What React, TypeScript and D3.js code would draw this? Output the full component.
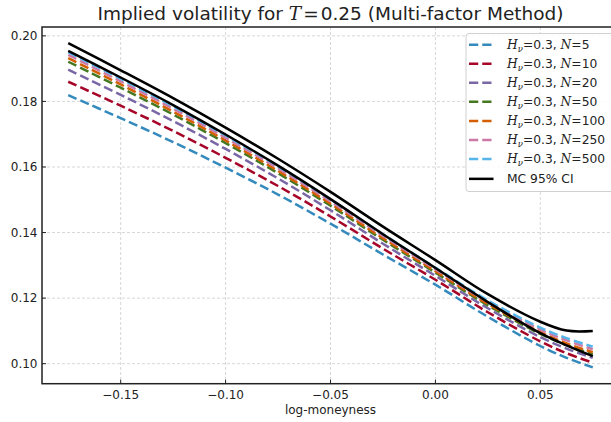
import React from "react";
import * as d3 from "d3";

const W = 611, H = 422;

const moneyness = [-0.175, -0.15, -0.125, -0.1, -0.075, -0.05, -0.025, 0, 0.025, 0.05, 0.0625, 0.075];

const ivN5 = [0.1819, 0.1749, 0.1676, 0.1598, 0.1516, 0.1427, 0.1333, 0.1241, 0.1143, 0.1054, 0.1018, 0.0989];
const ivN10 = [0.1860, 0.1787, 0.1710, 0.1628, 0.1542, 0.1449, 0.1351, 0.1256, 0.1157, 0.1068, 0.1032, 0.1003];
const ivN20 = [0.1897, 0.1820, 0.1740, 0.1655, 0.1565, 0.1468, 0.1366, 0.1268, 0.1169, 0.1081, 0.1046, 0.1018];
const ivN50 = [0.1921, 0.1842, 0.1760, 0.1673, 0.1581, 0.1482, 0.1378, 0.1278, 0.1178, 0.1091, 0.1057, 0.1029];
const ivN100 = [0.1932, 0.1852, 0.1769, 0.1681, 0.1588, 0.1488, 0.1383, 0.1282, 0.1182, 0.1096, 0.1062, 0.1035];
const ivN250 = [0.1942, 0.1861, 0.1778, 0.1689, 0.1596, 0.1495, 0.1390, 0.1288, 0.1188, 0.1104, 0.1071, 0.1044];
const ivN500 = [0.1950, 0.1869, 0.1785, 0.1696, 0.1602, 0.1501, 0.1395, 0.1293, 0.1193, 0.1110, 0.1078, 0.1052];
const ciLower = [0.1954, 0.1873, 0.1789, 0.1699, 0.1604, 0.1502, 0.1395, 0.1292, 0.1188, 0.1093, 0.1056, 0.1023];
const ciUpper = [0.1978, 0.1895, 0.1810, 0.1720, 0.1625, 0.1524, 0.1418, 0.1316, 0.1212, 0.1128, 0.1101, 0.1100];

const nValues = ["5", "10", "20", "50", "100", "250", "500"];
const colors = ["#348ABD", "#A60628", "#7A68A6", "#467821", "#D55E00", "#CC79A7", "#56B4E9"];
const dashedSeries = [ivN5, ivN10, ivN20, ivN50, ivN100, ivN250, ivN500];

const xTicks = [-0.15, -0.1, -0.05, 0.0, 0.05];
const yTicks = [0.10, 0.12, 0.14, 0.16, 0.18, 0.20];

const SANS = "'DejaVu Sans', sans-serif";
const SERIF = "'DejaVu Serif', serif";

export default function App() {
  const left = 42, right = 619, top = 27, bottom = 383.7;
  const x = d3.scaleLinear().domain([-0.1875, 0.0875]).range([left, right]);
  const y = d3.scaleLinear().domain([0.0939, 0.2027]).range([bottom, top]);
  const line = d3
    .line<number>()
    .x((_, i) => x(moneyness[i]))
    .y((d) => y(d))
    .curve(d3.curveCatmullRom.alpha(0.5));

  const legX = 466, legY = 33.5, rowH = 19.05;

  return (
    <svg width={W} height={H} style={{ position: "absolute", left: 0, top: 0, background: "#fff" }} fontFamily={SANS}>
      <defs>
        <clipPath id="plot">
          <rect x={left} y={top} width={right - left} height={bottom - top} />
        </clipPath>
      </defs>
      {/* grid */}
      {xTicks.map((t) => (
        <line key={"gx" + t} x1={x(t)} x2={x(t)} y1={top} y2={bottom} stroke="#cdcdcd" strokeWidth={0.8} strokeDasharray="3,2" />
      ))}
      {yTicks.map((t) => (
        <line key={"gy" + t} x1={left} x2={right} y1={y(t)} y2={y(t)} stroke="#cdcdcd" strokeWidth={0.8} strokeDasharray="3,2" />
      ))}
      {/* series */}
      <g clipPath="url(#plot)" fill="none">
        {dashedSeries.map((s, i) => (
          <path key={"s" + i} d={line(s) || ""} stroke={colors[i]} strokeWidth={2.5} strokeDasharray="9.25,4" />
        ))}
        <path d={line(ciUpper) || ""} stroke="#000" strokeWidth={2.5} />
        <path d={line(ciLower) || ""} stroke="#000" strokeWidth={2.5} />
      </g>
      {/* spines */}
      <rect x={left} y={top} width={right - left} height={bottom - top} fill="none" stroke="#222" strokeWidth={1.5} />
      {/* ticks */}
      {xTicks.map((t) => (
        <g key={"tx" + t}>
          <line x1={x(t)} x2={x(t)} y1={bottom} y2={bottom - 4} stroke="#222" strokeWidth={1} />
          <text x={x(t)} y={398.5} fontSize={12} textAnchor="middle" fill="#222">
            {d3.format(".2f")(t).replace("-", "\u2212")}
          </text>
        </g>
      ))}
      {yTicks.map((t) => (
        <g key={"ty" + t}>
          <line x1={left} x2={left + 4} y1={y(t)} y2={y(t)} stroke="#222" strokeWidth={1} />
          <text x={37.5} y={y(t) + 4.3} fontSize={12} textAnchor="end" fill="#222">
            {d3.format(".2f")(t)}
          </text>
        </g>
      ))}
      <text x={(left + right) / 2} y={414} fontSize={12} textAnchor="middle" fill="#222">log-moneyness</text>
      {/* title */}
      <text x={(left + right) / 2} y={19.5} fontSize={18.5} textAnchor="middle" fill="#222">
        Implied volatility for <tspan fontFamily={SERIF} fontStyle="italic">T</tspan>
        <tspan dx={2}>=</tspan>
        <tspan dx={2}>0.25 (Multi-factor Method)</tspan>
      </text>
      {/* legend */}
      <rect x={legX} y={legY} width={170} height={158} rx={3} fill="#fff" fillOpacity={0.85} stroke="#d0d0d0" strokeWidth={1} />
      {nValues.map((n, i) => {
        const cy = legY + 11.2 + i * rowH;
        return (
          <g key={"l" + n}>
            <line x1={469} x2={493.5} y1={cy} y2={cy} stroke={colors[i]} strokeWidth={2.5} strokeDasharray="9.25,4" />
            <text x={507} y={cy + 4.3} fontSize={12.3} fill="#222">
              <tspan fontFamily={SERIF} fontStyle="italic">H</tspan>
              <tspan fontFamily={SERIF} fontStyle="italic" fontSize={8.5} dy={2.5}>ν</tspan>
              <tspan dy={-2.5}>=0.3, </tspan>
              <tspan fontFamily={SERIF} fontStyle="italic">N</tspan>
              <tspan>={n}</tspan>
            </text>
          </g>
        );
      })}
      {(() => {
        const cy = legY + 11.2 + 7 * rowH + 0.8;
        return (
          <g>
            <line x1={469} x2={493.5} y1={cy} y2={cy} stroke="#000" strokeWidth={2.5} />
            <text x={507} y={cy + 4.3} fontSize={12.3} fill="#222">MC 95% CI</text>
          </g>
        );
      })()}
    </svg>
  );
}
